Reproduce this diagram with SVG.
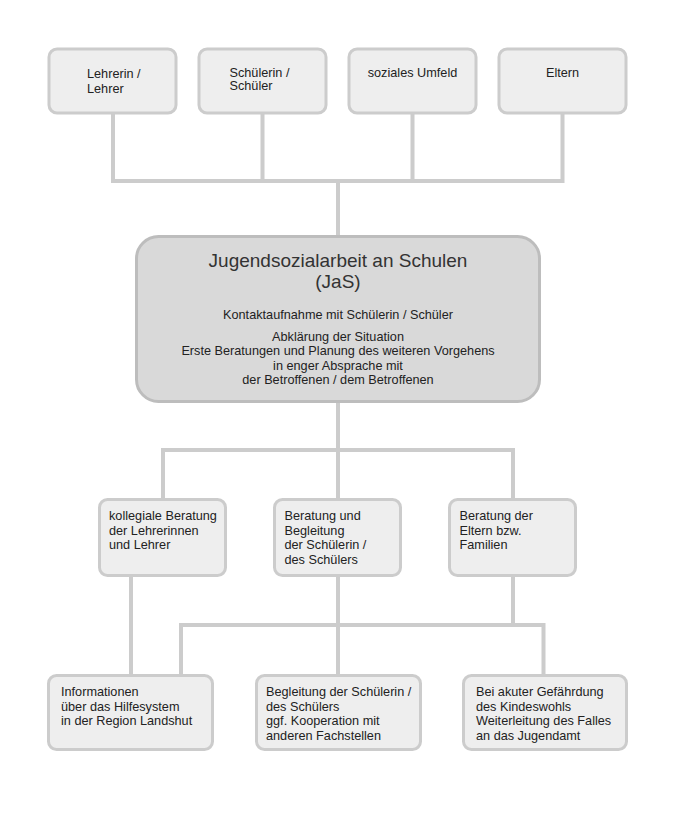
<svg xmlns="http://www.w3.org/2000/svg" width="675" height="815" viewBox="0 0 675 815">
<style>
.box{fill:#eeeeee;stroke:#cccccc;stroke-width:3}
.main{fill:#d9d9d9;stroke:#bdbdbd;stroke-width:3}
.t{font-family:"Liberation Sans",Arial,sans-serif;font-size:12.7px;fill:#222222}
.c{text-anchor:middle}
.title{font-family:"Liberation Sans",Arial,sans-serif;font-size:19px;fill:#333333;text-anchor:middle}
.ln{fill:none;stroke:#cccccc;stroke-width:4}
</style>
<rect width="675" height="815" fill="#ffffff"/>
<g id="connectors">
<path class="ln" d="M113 113V181M262.5 113V181M412.5 113V181M562.5 113V181M111 181H564.5M338 181V236"/>
<path class="ln" d="M338 402V450M161 450H515M163 450V499M338 450V499M513 450V499"/>
<path class="ln" d="M131 575V675M338 575V675M513 575V625M179 625H545.5M181 625V675M543.5 625V675"/>
</g>
<g id="n-lehrer">
<rect class="box" x="49" y="49" width="127" height="64" rx="8"/>
<text class="t" x="87" y="77.5">Lehrerin /</text>
<text class="t" x="87" y="92.5">Lehrer</text>
</g>
<g id="n-schueler">
<rect class="box" x="199" y="49" width="127" height="64" rx="8"/>
<text class="t" x="229.5" y="76.5">Schülerin /</text>
<text class="t" x="229.5" y="90">Schüler</text>
</g>
<g id="n-umfeld">
<rect class="box" x="349" y="49" width="127" height="64" rx="8"/>
<text class="t c" x="412.5" y="77">soziales Umfeld</text>
</g>
<g id="n-eltern">
<rect class="box" x="499" y="49" width="127" height="64" rx="8"/>
<text class="t c" x="562.5" y="77">Eltern</text>
</g>
<g id="n-jas">
<rect class="main" x="136.5" y="236.5" width="403" height="165" rx="22"/>
<text class="title" x="338" y="267">Jugendsozialarbeit an Schulen</text>
<text class="title" x="338" y="288">(JaS)</text>
<text class="t c" x="338" y="319">Kontaktaufnahme mit Schülerin / Schüler</text>
<text class="t c" x="338" y="340.5">Abklärung der Situation</text>
<text class="t c" x="338" y="355">Erste Beratungen und Planung des weiteren Vorgehens</text>
<text class="t c" x="338" y="369.5">in enger Absprache mit</text>
<text class="t c" x="338" y="384">der Betroffenen / dem Betroffenen</text>
</g>
<g id="n-kollegial">
<rect class="box" x="99.5" y="499.5" width="126" height="76" rx="8"/>
<text class="t" x="109" y="520">kollegiale Beratung</text>
<text class="t" x="109" y="534.5">der Lehrerinnen</text>
<text class="t" x="109" y="549">und Lehrer</text>
</g>
<g id="n-beratung-schueler">
<rect class="box" x="274.5" y="499.5" width="126" height="76" rx="8"/>
<text class="t" x="284.5" y="520">Beratung und</text>
<text class="t" x="284.5" y="534.5">Begleitung</text>
<text class="t" x="284.5" y="549">der Schülerin /</text>
<text class="t" x="284.5" y="563.5">des Schülers</text>
</g>
<g id="n-beratung-eltern">
<rect class="box" x="449.5" y="499.5" width="126" height="76" rx="8"/>
<text class="t" x="459.5" y="520">Beratung der</text>
<text class="t" x="459.5" y="534.5">Eltern bzw.</text>
<text class="t" x="459.5" y="549">Familien</text>
</g>
<g id="n-informationen">
<rect class="box" x="48.5" y="675.5" width="164" height="74" rx="8"/>
<text class="t" x="61" y="696">Informationen</text>
<text class="t" x="61" y="710.5">über das Hilfesystem</text>
<text class="t" x="61" y="725">in der Region Landshut</text>
</g>
<g id="n-begleitung">
<rect class="box" x="256.5" y="675.5" width="164" height="74" rx="8"/>
<text class="t" x="266" y="696">Begleitung der Schülerin /</text>
<text class="t" x="266" y="710.5">des Schülers</text>
<text class="t" x="266" y="725">ggf. Kooperation mit</text>
<text class="t" x="266" y="739.5">anderen Fachstellen</text>
</g>
<g id="n-gefaehrdung">
<rect class="box" x="463.5" y="675.5" width="163" height="74" rx="8"/>
<text class="t" x="476" y="696">Bei akuter Gefährdung</text>
<text class="t" x="476" y="710.5">des Kindeswohls</text>
<text class="t" x="476" y="725">Weiterleitung des Falles</text>
<text class="t" x="476" y="739.5">an das Jugendamt</text>
</g>
</svg>
